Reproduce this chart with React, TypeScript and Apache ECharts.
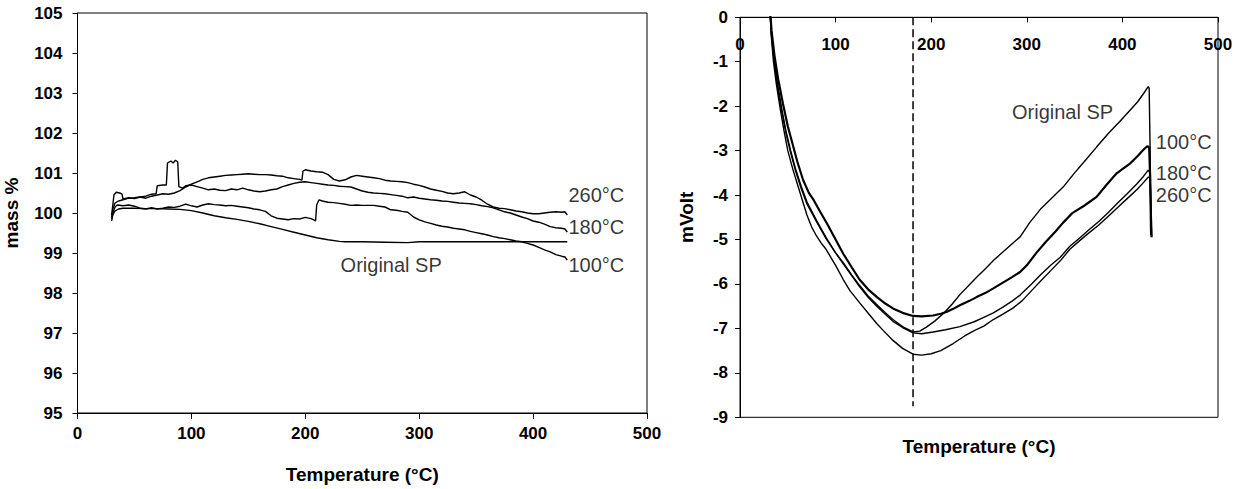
import React, { useEffect, useRef } from "react";
import * as echarts from "echarts";

// ---------- Left chart: mass % vs temperature ----------
const massTicksY = { min: 95, max: 105, step: 1 };
const tempTicks = { min: 0, max: 500, step: 100 };

const massOriginal: [number, number][] = [
  [30, 99.85], [31, 99.95], [33, 100.05], [36, 100.1], [40, 100.12], [50, 100.12], [60, 100.11],
  [70, 100.11], [80, 100.1], [90, 100.09], [100, 100.06], [110, 100.0], [120, 99.93], [130, 99.88],
  [140, 99.84], [150, 99.79], [160, 99.73], [170, 99.66], [180, 99.59], [190, 99.52], [200, 99.45],
  [210, 99.38], [220, 99.33], [230, 99.29], [235, 99.28], [250, 99.28], [270, 99.27], [290, 99.26],
  [300, 99.28], [330, 99.28], [360, 99.28], [400, 99.28], [430, 99.28],
];

const mass100: [number, number][] = [
  [30, 99.8], [31, 100.0], [33, 100.15], [35, 100.2], [40, 100.18], [45, 100.2], [50, 100.17],
  [55, 100.12], [60, 100.1], [65, 100.13], [70, 100.1], [75, 100.12], [80, 100.15], [85, 100.14],
  [90, 100.17], [95, 100.22], [100, 100.18], [105, 100.15], [110, 100.2], [115, 100.23], [120, 100.21],
  [125, 100.2], [130, 100.18], [135, 100.19], [140, 100.17], [145, 100.15], [150, 100.13], [155, 100.1],
  [160, 100.08], [165, 100.04], [170, 99.93], [175, 99.87], [180, 99.85], [185, 99.83], [190, 99.86],
  [195, 99.85], [200, 99.89], [205, 99.86], [208, 99.82], [209, 99.8], [210, 100.2], [212, 100.33],
  [215, 100.3], [220, 100.27], [225, 100.26], [230, 100.24], [235, 100.22], [240, 100.19], [245, 100.2],
  [250, 100.19], [255, 100.19], [260, 100.19], [265, 100.17], [270, 100.15], [275, 100.08], [280, 100.07],
  [285, 100.04], [290, 100.02], [295, 99.9], [300, 99.83], [305, 99.78], [310, 99.74], [315, 99.7],
  [320, 99.67], [325, 99.65], [330, 99.62], [335, 99.6], [340, 99.58], [345, 99.54], [350, 99.51],
  [355, 99.48], [360, 99.45], [365, 99.41], [370, 99.38], [375, 99.36], [380, 99.33], [385, 99.3],
  [390, 99.28], [395, 99.24], [400, 99.2], [405, 99.14], [410, 99.08], [415, 99.03], [420, 98.96],
  [425, 98.92], [428, 98.9], [430, 98.82],
];

const mass180: [number, number][] = [
  [30, 99.9], [31, 100.1], [33, 100.25], [36, 100.3], [40, 100.33], [45, 100.37], [50, 100.38],
  [55, 100.4], [60, 100.42], [65, 100.47], [69, 100.48], [70, 100.68], [75, 100.7], [78, 100.7],
  [79, 101.25], [82, 101.3], [84, 101.25], [86, 101.32], [88, 101.28], [89, 100.66], [92, 100.62],
  [95, 100.68], [100, 100.7], [105, 100.66], [110, 100.62], [115, 100.58], [120, 100.6], [125, 100.57],
  [130, 100.56], [135, 100.6], [140, 100.58], [145, 100.62], [150, 100.58], [155, 100.55], [160, 100.53],
  [165, 100.55], [170, 100.58], [175, 100.6], [180, 100.66], [185, 100.7], [190, 100.74], [195, 100.77],
  [200, 100.78], [205, 100.76], [210, 100.74], [215, 100.72], [220, 100.7], [225, 100.69], [230, 100.67],
  [235, 100.66], [240, 100.65], [245, 100.6], [250, 100.55], [255, 100.52], [260, 100.5], [265, 100.49],
  [270, 100.48], [275, 100.46], [280, 100.44], [285, 100.42], [290, 100.38], [295, 100.4], [300, 100.37],
  [305, 100.35], [310, 100.33], [315, 100.32], [320, 100.3], [325, 100.29], [330, 100.27], [335, 100.25],
  [340, 100.24], [345, 100.23], [350, 100.21], [355, 100.18], [360, 100.16], [365, 100.13], [370, 100.08],
  [375, 100.03], [380, 100.0], [385, 99.95], [390, 99.9], [395, 99.86], [400, 99.8], [405, 99.77],
  [410, 99.72], [415, 99.66], [420, 99.63], [425, 99.62], [428, 99.6], [430, 99.52],
];

const mass260: [number, number][] = [
  [30, 99.95], [31, 100.2], [32, 100.45], [34, 100.52], [37, 100.5], [39, 100.48], [40, 100.35],
  [45, 100.38], [50, 100.36], [55, 100.4], [60, 100.37], [65, 100.42], [70, 100.45], [75, 100.48],
  [80, 100.47], [85, 100.5], [90, 100.56], [95, 100.65], [100, 100.72], [105, 100.78], [110, 100.84],
  [115, 100.88], [120, 100.9], [125, 100.92], [130, 100.94], [135, 100.95], [140, 100.96], [145, 100.97],
  [150, 100.98], [155, 100.97], [160, 100.96], [165, 100.96], [170, 100.95], [175, 100.93], [180, 100.92],
  [185, 100.88], [190, 100.86], [195, 100.84], [197, 100.82], [198, 101.05], [200, 101.08], [205, 101.05],
  [210, 101.03], [215, 101.02], [220, 100.96], [225, 100.84], [230, 100.8], [235, 100.83], [240, 100.9],
  [245, 100.94], [250, 100.92], [255, 100.9], [260, 100.88], [265, 100.86], [270, 100.82], [275, 100.8],
  [280, 100.79], [285, 100.78], [290, 100.76], [295, 100.72], [300, 100.69], [305, 100.65], [310, 100.6],
  [315, 100.57], [320, 100.54], [325, 100.5], [330, 100.48], [335, 100.5], [340, 100.53], [345, 100.45],
  [350, 100.4], [355, 100.32], [360, 100.22], [365, 100.15], [370, 100.12], [375, 100.11], [380, 100.08],
  [385, 100.05], [390, 100.03], [395, 100.0], [400, 99.98], [405, 99.98], [410, 100.0], [415, 100.02],
  [420, 100.03], [425, 100.02], [428, 100.03], [430, 99.95],
];

const massLabels: [number, number, string][] = [
  [431, 100.44, "260°C"],
  [431, 99.64, "180°C"],
  [431, 98.69, "100°C"],
  [231, 98.69, "Original SP"],
];

// ---------- Right chart: mVolt vs temperature ----------
const voltTicksY = { min: -9, max: 0, step: 1 };
const dashedTemp: [number, number][] = [[181, 0], [181, -8.75]];

const voltOriginal: [number, number][] = [
  [31, 0.3], [33, -0.4], [36, -1.0], [40, -1.6], [44, -2.1], [48, -2.55], [53, -3.0], [58, -3.4],
  [64, -3.8], [70, -4.15], [80, -4.57], [90, -4.95], [100, -5.3], [108, -5.52], [117, -5.8],
  [125, -6.03], [134, -6.27], [143, -6.46], [152, -6.65], [160, -6.8], [170, -6.96], [181, -7.08],
  [188, -7.06], [195, -6.97], [204, -6.83], [213, -6.66], [222, -6.45], [230, -6.24], [240, -6.02],
  [248, -5.84], [257, -5.65], [265, -5.47], [275, -5.28], [285, -5.09], [293, -4.94], [303, -4.62],
  [315, -4.3], [327, -4.05], [338, -3.82], [350, -3.5], [360, -3.25], [373, -2.92], [385, -2.62],
  [397, -2.35], [408, -2.09], [416, -1.9], [422, -1.72], [427, -1.56], [428, -1.6], [429, -3.0],
  [430, -4.95],
];

const volt100: [number, number][] = [
  [31, 0.3], [33, -0.3], [36, -0.85], [40, -1.4], [45, -1.95], [50, -2.45], [55, -2.85], [60, -3.25],
  [66, -3.66], [72, -3.95], [77, -4.11], [84, -4.38], [91, -4.64], [100, -5.0], [108, -5.32],
  [117, -5.63], [125, -5.9], [134, -6.12], [143, -6.29], [152, -6.44], [160, -6.55], [170, -6.65],
  [181, -6.72], [190, -6.73], [202, -6.71], [210, -6.67], [216, -6.63], [223, -6.56], [230, -6.48],
  [240, -6.38], [248, -6.29], [257, -6.2], [265, -6.1], [275, -5.97], [285, -5.84], [293, -5.73],
  [300, -5.58], [310, -5.3], [320, -5.05], [330, -4.82], [338, -4.62], [348, -4.4], [360, -4.24],
  [373, -4.04], [383, -3.78], [394, -3.51], [401, -3.4], [408, -3.29], [416, -3.12], [422, -2.98],
  [426, -2.9], [428, -2.93], [429, -3.6], [430, -4.9],
];

const volt180: [number, number][] = [
  [31, 0.3], [33, -0.45], [36, -1.05], [40, -1.65], [44, -2.15], [48, -2.6], [53, -3.05], [58, -3.45],
  [64, -3.85], [70, -4.2], [80, -4.6], [90, -4.98], [100, -5.3], [108, -5.55], [117, -5.82],
  [125, -6.06], [134, -6.3], [143, -6.5], [152, -6.68], [160, -6.84], [170, -6.98], [181, -7.1],
  [190, -7.12], [202, -7.08], [215, -7.03], [230, -6.96], [245, -6.85], [255, -6.75], [265, -6.65],
  [275, -6.52], [285, -6.38], [293, -6.25], [305, -6.0], [315, -5.78], [325, -5.58], [335, -5.4],
  [345, -5.15], [355, -4.97], [365, -4.78], [375, -4.6], [385, -4.4], [395, -4.18], [405, -3.97],
  [415, -3.75], [422, -3.58], [427, -3.44], [429, -3.5], [430, -4.9],
];

const volt260: [number, number][] = [
  [31, 0.3], [33, -0.5], [35, -1.0], [38, -1.5], [42, -2.05], [46, -2.55], [50, -3.0], [55, -3.4],
  [60, -3.75], [65, -4.1], [70, -4.45], [75, -4.72], [80, -4.92], [85, -5.08], [90, -5.22], [95, -5.4],
  [100, -5.58], [108, -5.9], [115, -6.15], [125, -6.42], [135, -6.68], [143, -6.89], [150, -7.05],
  [160, -7.27], [170, -7.45], [181, -7.58], [190, -7.6], [200, -7.57], [210, -7.5], [223, -7.34],
  [235, -7.17], [245, -7.05], [255, -6.95], [265, -6.8], [275, -6.68], [285, -6.55], [295, -6.38],
  [305, -6.15], [315, -5.92], [325, -5.7], [335, -5.48], [345, -5.22], [355, -5.03], [365, -4.85],
  [375, -4.68], [385, -4.48], [395, -4.28], [405, -4.08], [415, -3.88], [422, -3.72], [427, -3.6],
  [429, -3.6], [430, -4.3], [431, -4.95],
];

const voltLabels: [number, number, string][] = [
  [284.5, -2.13, "Original SP"],
  [435, -2.81, "100°C"],
  [435, -3.51, "180°C"],
  [435, -4.0, "260°C"],
];

const FONT = 'Arial, "Liberation Sans", sans-serif';

export default function App() {
  const ref = useRef<HTMLDivElement>(null);

  useEffect(() => {
    if (!ref.current) return;
    const chart = echarts.init(ref.current, undefined, { renderer: "svg" });

    const black = "#000";
    const tickLabel = { color: black, fontWeight: "bold" as const, fontSize: 17, fontFamily: FONT };
    const nameStyle = { color: black, fontWeight: "bold" as const, fontSize: 19, fontFamily: FONT };
    const axisLine = { show: true, onZero: false, lineStyle: { color: black, width: 1 } };

    const lineSeries = (data: [number, number][], idx: number, width = 1.4) => ({
      type: "line",
      xAxisIndex: idx,
      yAxisIndex: idx,
      data,
      showSymbol: false,
      symbol: "none",
      silent: true,
      lineStyle: { color: black, width },
    });

    const labelSeries = (data: [number, number, string][], idx: number) => ({
      type: "scatter",
      xAxisIndex: idx,
      yAxisIndex: idx,
      data,
      symbolSize: 0,
      silent: true,
      label: {
        show: true,
        position: "right",
        distance: 0,
        formatter: (p: any) => p.data[2],
        color: black,
        fontSize: 20,
        fontFamily: FONT,
      },
    });

    chart.setOption({
      animation: false,
      backgroundColor: "#fff",
      textStyle: { fontFamily: FONT, color: black },
      grid: [
        { left: 77.5, top: 13, width: 569.5, height: 400, show: true, borderColor: black, borderWidth: 1 },
        { left: 740, top: 17.3, width: 478, height: 400, show: true, borderColor: black, borderWidth: 1 },
      ],
      xAxis: [
        {
          gridIndex: 0,
          type: "value",
          min: tempTicks.min,
          max: tempTicks.max,
          interval: tempTicks.step,
          name: "Temperature (°C)",
          nameLocation: "middle",
          nameGap: 52,
          nameTextStyle: nameStyle,
          axisLine,
          axisTick: { show: true, length: 6, lineStyle: { color: black } },
          axisLabel: { ...tickLabel, margin: 12 },
          splitLine: { show: false },
        },
        {
          gridIndex: 1,
          type: "value",
          position: "top",
          min: tempTicks.min,
          max: tempTicks.max,
          interval: tempTicks.step,
          axisLine,
          axisTick: { show: true, inside: true, length: 5, lineStyle: { color: black } },
          axisLabel: { ...tickLabel, inside: true, margin: 19 },
          splitLine: { show: false },
        },
        {
          gridIndex: 1,
          type: "value",
          position: "bottom",
          min: tempTicks.min,
          max: tempTicks.max,
          name: "Temperature (°C)",
          nameLocation: "middle",
          nameGap: 20,
          nameTextStyle: nameStyle,
          axisLine: { show: false },
          axisTick: { show: false },
          axisLabel: { show: false },
          splitLine: { show: false },
        },
      ],
      yAxis: [
        {
          gridIndex: 0,
          type: "value",
          min: massTicksY.min,
          max: massTicksY.max,
          interval: massTicksY.step,
          name: "mass %",
          nameLocation: "middle",
          nameGap: 57,
          nameRotate: 90,
          nameTextStyle: nameStyle,
          axisLine,
          axisTick: { show: true, length: 5, lineStyle: { color: black } },
          axisLabel: { ...tickLabel, margin: 15 },
          splitLine: { show: false },
        },
        {
          gridIndex: 1,
          type: "value",
          min: voltTicksY.min,
          max: voltTicksY.max,
          interval: voltTicksY.step,
          name: "mVolt",
          nameLocation: "middle",
          nameGap: 44,
          nameRotate: 90,
          nameTextStyle: nameStyle,
          axisLine,
          axisTick: { show: true, length: 5, lineStyle: { color: black } },
          axisLabel: { ...tickLabel, margin: 12 },
          splitLine: { show: false },
        },
      ],
      series: [
        lineSeries(massOriginal, 0),
        lineSeries(mass100, 0),
        lineSeries(mass180, 0),
        lineSeries(mass260, 0),
        labelSeries(massLabels, 0),
        lineSeries(voltOriginal, 1),
        lineSeries(volt100, 1, 2.2),
        lineSeries(volt180, 1),
        lineSeries(volt260, 1),
        {
          type: "line",
          xAxisIndex: 1,
          yAxisIndex: 1,
          data: dashedTemp,
          showSymbol: false,
          symbol: "none",
          silent: true,
          lineStyle: { color: black, width: 1.5, type: [8, 4] },
        },
        labelSeries(voltLabels, 1),
      ],
    });

    return () => chart.dispose();
  }, []);

  return (
    <div
      ref={ref}
      style={{ position: "absolute", left: 0, top: 0, width: 1236, height: 489, background: "#fff" }}
    />
  );
}
